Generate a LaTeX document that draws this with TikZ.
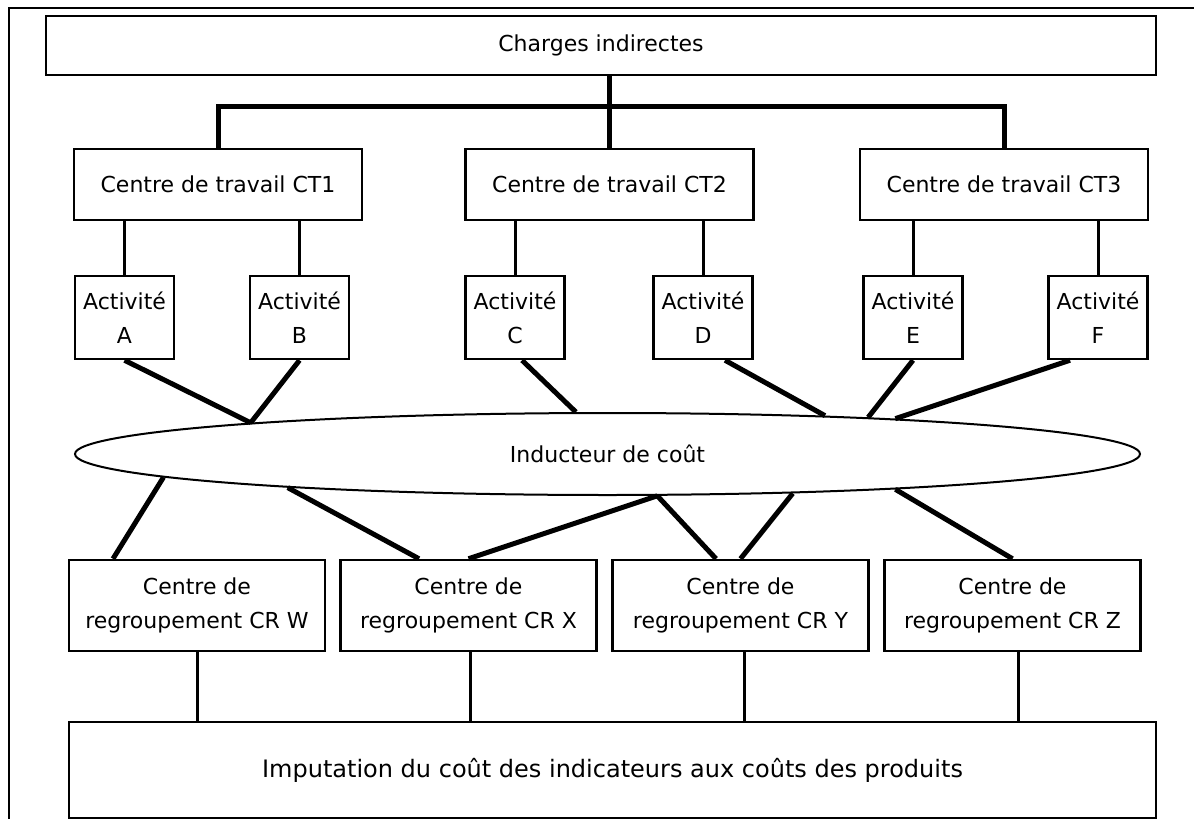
\documentclass[tikz,border=0pt]{standalone}
\usepackage{fontspec}
\setmainfont{DejaVu Sans}
\usetikzlibrary{shapes,calc}
\tikzstyle{block} = [draw, rectangle, line width=2.5pt, text centered, inner sep=0pt]
\tikzstyle{centre} = [block, minimum width=288pt, minimum height=71pt]
\tikzstyle{activ} = [block, align=center, minimum width=99pt, minimum height=83pt]
\tikzstyle{regroup} = [block, align=center, minimum width=256pt, minimum height=91pt]
\tikzstyle{trunk} = [draw, line width=5pt]
\tikzstyle{link} = [draw, line width=5pt]
\tikzstyle{drop} = [draw, line width=3pt]

\begin{document}
\begin{tikzpicture}[x=1pt, y=-1pt, font=\fontsize{22}{34}\selectfont]
        \useasboundingbox (0,0) rectangle (1194,819);
        \draw[line width=2.5pt] (9,819) -- (9,8) -- (1194,8);
        \node[block, minimum width=1110pt, minimum height=59pt] (charges) at (601,45.5) {Charges indirectes};
        \node[centre] (ct1) at (218,184.5) {Centre de travail CT1};
        \node[centre] (ct2) at (609.5,184.5) {Centre de travail CT2};
        \node[centre] (ct3) at (1004,184.5) {Centre de travail CT3};
        \node[activ] (acta) at (124.5,317.5) {Activité\\A};
        \node[activ] (actb) at (299.5,317.5) {Activité\\B};
        \node[activ] (actc) at (515,317.5) {Activité\\C};
        \node[activ] (actd) at (703,317.5) {Activité\\D};
        \node[activ] (acte) at (913,317.5) {Activité\\E};
        \node[activ] (actf) at (1098,317.5) {Activité\\F};
        \node[draw, ellipse, line width=2pt, minimum width=1065pt, minimum height=82pt, inner sep=0pt] (induct) at (607.5,454) {Inducteur de coût};
        \node[regroup] (crw) at (197,605.5) {Centre de\\regroupement CR W};
        \node[regroup] (crx) at (468.5,605.5) {Centre de\\regroupement CR X};
        \node[regroup] (cry) at (740.5,605.5) {Centre de\\regroupement CR Y};
        \node[regroup] (crz) at (1012.5,605.5) {Centre de\\regroupement CR Z};
        \node[block, minimum width=1087pt, minimum height=96pt, font=\fontsize{24}{30}\selectfont] (imput) at (612.5,770) {Imputation du coût des indicateurs aux coûts des produits};
        % charges vers centres de travail
        \coordinate (bar) at (0,106);
        \path[trunk] (ct2.north |- charges.south) -- (ct2.north);
        \path[trunk] (ct1.north) -- (ct1.north |- bar) -- (ct3.north |- bar) -- (ct3.north);
        % centres de travail vers activites
        \foreach \a/\c in {acta/ct1, actb/ct1, actc/ct2, actd/ct2, acte/ct3, actf/ct3}
            \path[drop] (\a.north) -- (\a.north |- \c.south);
        % activites vers inducteur
        \path[link] (acta.south) -- (induct.175.85);
        \path[link] (actb.south) -- (induct.175.46);
        \path[link] ($(actc.south)+(7,0)$) -- (induct.127.6);
        \path[link] ($(actd.south)+(22,0)$) -- (induct.10.67);
        \path[link] (acte.south) -- (induct.8.09);
        \path[link] ($(actf.south)+(-28,0)$) -- (induct.7.29);
        % inducteur vers centres de regroupement
        \path[link] (induct.183.47) -- ($(crw.north)+(-84,0)$);
        \path[link] (induct.186.49) -- ($(crx.north)+(-49.5,0)$);
        \path[link] (induct.320.5) -- (crx.north);
        \path[link] (induct.320.5) -- ($(cry.north)+(-24.5,0)$);
        \path[link] (induct.348.7) -- (cry.north);
        \path[link] (induct.353.6) -- (crz.north);
        % centres de regroupement vers imputation
        \foreach \r/\d in {crw/0, crx/2, cry/4, crz/6}
            \path[drop] ($(\r.south)+(\d,0)$) -- ($(\r.south |- imput.north)+(\d,0)$);
    \end{tikzpicture}
\end{document}
